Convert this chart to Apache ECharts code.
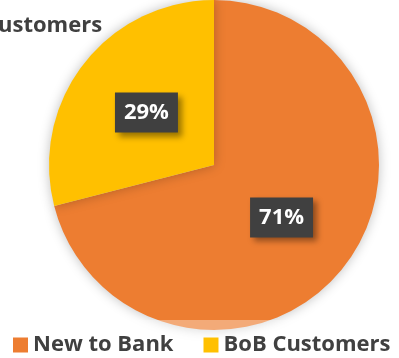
<!DOCTYPE html>
<html>
<head>
<meta charset="utf-8">
<script src="https://cdn.jsdelivr.net/npm/echarts@6/dist/echarts.min.js"></script>
<style>
  html, body { margin: 0; padding: 0; background: #fff; }
  #chart { width: 399px; height: 358px; }
</style>
</head>
<body>
<div id="chart"></div>
<script>
  const categories = ['New to Bank', 'BoB Customers']
  const values = [71, 29]
  const colors = ['#ED7D31', '#FFC000']

  const chart = echarts.init(document.getElementById('chart'))
  chart.setOption({
    animation: false,
    backgroundColor: '#fff',
    title: {
      text: 'Customers',
      left: -21,
      top: 10,
      textStyle: {
        color: '#404040',
        fontSize: 22,
        fontWeight: 'bold',
        fontFamily: 'Open Sans'
      }
    },
    legend: {
      bottom: -3,
      left: 8,
      itemWidth: 15,
      itemHeight: 15,
      itemGap: 30,
      icon: 'rect',
      z: 10,
      textStyle: {
        color: '#404040',
        fontSize: 22,
        fontWeight: 'bold',
        fontFamily: 'Open Sans'
      },
      data: categories
    },
    graphic: [{
      type: 'rect',
      z: 5,
      shape: { x: 0, y: 320, width: 399, height: 38 },
      style: { fill: 'rgba(255,255,255,0.35)' }
    }],
    series: [{
      type: 'pie',
      z: 2,
      center: [214, 165],
      radius: [0, 165],
      startAngle: 90,
      clockwise: true,
      itemStyle: {
        shadowBlur: 12,
        shadowColor: 'rgba(0,0,0,0.25)'
      },
      label: {
        position: 'inside',
        formatter: '{d}%',
        color: '#fff',
        fontSize: 22,
        fontWeight: 'bold',
        fontFamily: 'Open Sans',
        lineHeight: 24,
        backgroundColor: '#404040',
        padding: [9, 9, 7, 9],
        shadowBlur: 6,
        shadowOffsetX: 4,
        shadowOffsetY: 4,
        shadowColor: 'rgba(0,0,0,0.4)'
      },
      labelLine: { show: false },
      data: categories.map((name, i) => ({
        name: name,
        value: values[i],
        itemStyle: { color: colors[i] }
      }))
    }]
  })
</script>
</body>
</html>
